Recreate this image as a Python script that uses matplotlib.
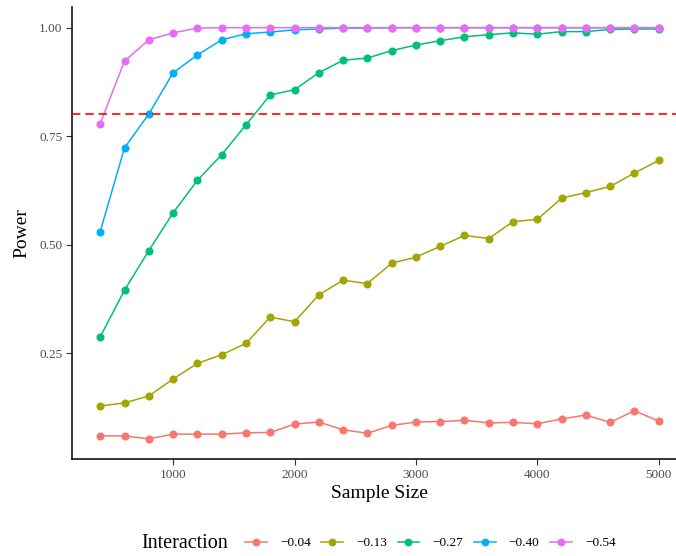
import numpy as np
import matplotlib
matplotlib.use("Agg")
import matplotlib.pyplot as plt
from matplotlib.lines import Line2D

plt.rcParams['font.family'] = ['Liberation Serif', 'DejaVu Serif']

# Data
sample_size = np.arange(400, 5001, 200)

interactions = ["\u22120.04", "\u22120.13", "\u22120.27", "\u22120.40", "\u22120.54"]
colors = ["#F8766D", "#A3A500", "#00BF7D", "#00B0F6", "#E76BF3"]

power_004 = [0.059, 0.059, 0.052, 0.063, 0.063, 0.063, 0.066, 0.067, 0.086, 0.091, 0.073, 0.065,
             0.083, 0.091, 0.092, 0.095, 0.089, 0.090, 0.087, 0.098, 0.107, 0.090, 0.117, 0.093]
power_013 = [0.128, 0.135, 0.151, 0.190, 0.226, 0.246, 0.272, 0.333, 0.322, 0.384, 0.418, 0.410,
             0.457, 0.471, 0.496, 0.521, 0.514, 0.553, 0.558, 0.607, 0.620, 0.634, 0.665, 0.694]
power_027 = [0.287, 0.395, 0.486, 0.573, 0.648, 0.707, 0.776, 0.845, 0.857, 0.896, 0.925, 0.930,
             0.947, 0.960, 0.970, 0.979, 0.984, 0.988, 0.985, 0.991, 0.991, 0.996, 0.997, 0.997]
power_040 = [0.530, 0.723, 0.801, 0.896, 0.937, 0.972, 0.986, 0.990, 0.995, 0.997, 0.999, 0.999,
             1.000, 1.000, 1.000, 1.000, 1.000, 1.000, 1.000, 1.000, 1.000, 1.000, 1.000, 1.000]
power_054 = [0.779, 0.923, 0.972, 0.988, 0.999, 1.000, 1.000, 1.000, 1.000, 1.000, 1.000, 1.000,
             1.000, 1.000, 1.000, 1.000, 1.000, 1.000, 1.000, 1.000, 1.000, 1.000, 1.000, 1.000]
series = [power_004, power_013, power_027, power_040, power_054]

target_power = 0.8

W, H = 676, 556
fig = plt.figure(figsize=(W / 100, H / 100), dpi=100)
# panel runs a bit past the right edge, as in the reference
ax = fig.add_axes([72.3 / W, (H - 459.3) / H, (686.7 - 72.3) / W, (459.3 - 7.3) / H])

for vals, col in zip(series, colors):
    ax.plot(sample_size, vals, color=col, lw=1.1, marker="o", markersize=4.8, zorder=3)

ax.axhline(target_power, color="#FF0000", lw=1.2, dashes=(5, 3), zorder=4)

ax.set_xlim(170, 5230)
ax.set_ylim(0.005, 1.047)
ax.set_xticks([1000, 2000, 3000, 4000, 5000])
ax.set_yticks([0.25, 0.5, 0.75, 1.0])
ax.set_yticklabels(["0.25", "0.50", "0.75", "1.00"])

for s in ["top", "right"]:
    ax.spines[s].set_visible(False)
for s in ["left", "bottom"]:
    ax.spines[s].set_linewidth(1.1)
    ax.spines[s].set_color("black")

ax.tick_params(axis="both", length=4, width=0.8, color="#333333",
               labelcolor="#4D4D4D", labelsize=9.5, pad=3)

ax.set_xlabel("Sample Size", fontsize=14, labelpad=3)
ax.set_ylabel("Power", fontsize=14, labelpad=6)

# legend at the bottom, title on the left
handles = [Line2D([], [], color=c, lw=1.1, marker="o", markersize=4.6) for c in colors]
fig.legend(handles, interactions, loc="center left", bbox_to_anchor=(245 / W, 1 - 543 / H),
           ncol=5, frameon=False, fontsize=9.5, handlelength=1.65, handletextpad=1.0,
           columnspacing=0.8, borderaxespad=0, borderpad=0)
fig.text(141 / W, 1 - 543 / H, "Interaction", fontsize=14.5, ha="left", va="center")

fig.savefig("out.png", dpi=100)
